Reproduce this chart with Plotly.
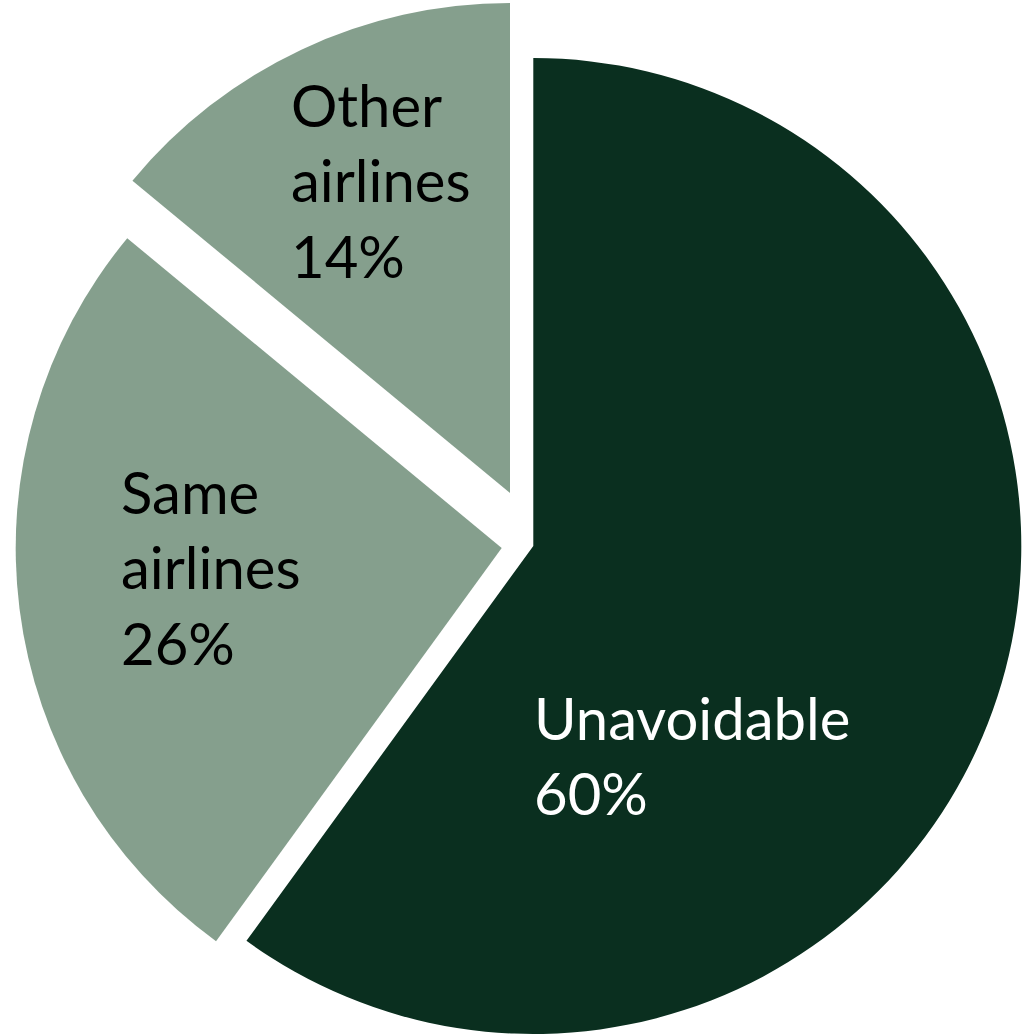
import plotly.graph_objects as go

labels = ["Unavoidable", "Same airlines", "Other airlines"]
values = [60, 26, 14]
label_lines = [["Unavoidable", "60%"], ["Same", "airlines", "26%"], ["Other", "airlines", "14%"]]
slice_colors = ["#0a2f1f", "#859f8d", "#859f8d"]
text_colors = ["#ffffff", "#000000", "#000000"]

W, H = 1025, 1034
# each slice is drawn as its own pie (others transparent) to mimic an exploded pie
# (center x, center y, radius) in pixels
slice_geo = [(533.3, 546, 488), (501.7, 548, 486), (510, 493, 490)]
# label anchor (left x, top y) in pixels
label_pos = [(532, 681), (119, 455), (289, 68)]
font_size = 58

fig = go.Figure()
for i, (cx, cy, r) in enumerate(slice_geo):
    cols = ["rgba(0,0,0,0)"] * len(values)
    cols[i] = slice_colors[i]
    fig.add_trace(go.Pie(
        labels=labels, values=values, sort=False, direction="clockwise", rotation=0,
        marker=dict(colors=cols, line=dict(width=0)),
        textinfo="none", hoverinfo="label+percent", showlegend=False,
        domain=dict(x=[(cx - r) / W, (cx + r) / W],
                    y=[max(0, 1 - (cy + r) / H), min(1, 1 - (cy - r) / H)]),
    ))

annotations = []
for i, lines in enumerate(label_lines):
    x, y = label_pos[i]
    annotations.append(dict(
        x=x / W, y=1 - y / H, xref="paper", yref="paper",
        xanchor="left", yanchor="top", align="left", showarrow=False,
        text="<br>".join(lines),
        font=dict(family="Lato", size=font_size, color=text_colors[i]),
    ))

fig.update_layout(
    width=W, height=H, margin=dict(l=0, r=0, t=0, b=0),
    paper_bgcolor="white", plot_bgcolor="white",
    annotations=annotations,
)
fig.write_html("out.html")
